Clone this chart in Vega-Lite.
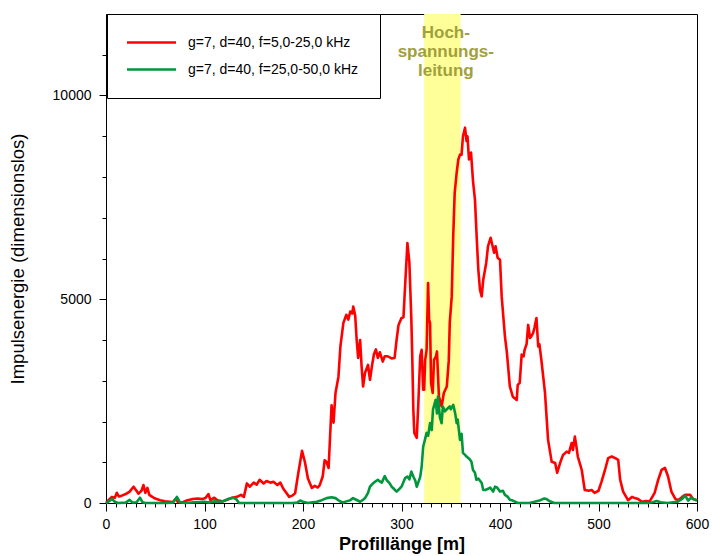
{
  "$schema": "https://vega.github.io/schema/vega-lite/v6.json",
  "width": 591,
  "height": 489,
  "autosize": "none",
  "padding": {"left": 106, "top": 14, "right": 15, "bottom": 53},
  "background": "white",
  "datasets": {
    "band": [{"von": 323, "bis": 360}],
    "note": [{"m": 345, "E": 11400, "txt": "Hoch-\nspannungs-\nleitung"}],
    "curves": [
      {"m":0,"E":0,"S":"g=7, d=40, f=5,0-25,0 kHz"},
      {"m":3,"E":80,"S":"g=7, d=40, f=5,0-25,0 kHz"},
      {"m":6,"E":150,"S":"g=7, d=40, f=5,0-25,0 kHz"},
      {"m":9,"E":130,"S":"g=7, d=40, f=5,0-25,0 kHz"},
      {"m":11,"E":250,"S":"g=7, d=40, f=5,0-25,0 kHz"},
      {"m":13,"E":160,"S":"g=7, d=40, f=5,0-25,0 kHz"},
      {"m":16,"E":180,"S":"g=7, d=40, f=5,0-25,0 kHz"},
      {"m":20,"E":220,"S":"g=7, d=40, f=5,0-25,0 kHz"},
      {"m":24,"E":280,"S":"g=7, d=40, f=5,0-25,0 kHz"},
      {"m":28,"E":400,"S":"g=7, d=40, f=5,0-25,0 kHz"},
      {"m":30,"E":330,"S":"g=7, d=40, f=5,0-25,0 kHz"},
      {"m":33,"E":230,"S":"g=7, d=40, f=5,0-25,0 kHz"},
      {"m":36,"E":300,"S":"g=7, d=40, f=5,0-25,0 kHz"},
      {"m":38,"E":440,"S":"g=7, d=40, f=5,0-25,0 kHz"},
      {"m":40,"E":250,"S":"g=7, d=40, f=5,0-25,0 kHz"},
      {"m":42,"E":370,"S":"g=7, d=40, f=5,0-25,0 kHz"},
      {"m":44,"E":200,"S":"g=7, d=40, f=5,0-25,0 kHz"},
      {"m":47,"E":150,"S":"g=7, d=40, f=5,0-25,0 kHz"},
      {"m":50,"E":110,"S":"g=7, d=40, f=5,0-25,0 kHz"},
      {"m":55,"E":70,"S":"g=7, d=40, f=5,0-25,0 kHz"},
      {"m":60,"E":40,"S":"g=7, d=40, f=5,0-25,0 kHz"},
      {"m":65,"E":30,"S":"g=7, d=40, f=5,0-25,0 kHz"},
      {"m":68,"E":20,"S":"g=7, d=40, f=5,0-25,0 kHz"},
      {"m":71,"E":110,"S":"g=7, d=40, f=5,0-25,0 kHz"},
      {"m":73,"E":20,"S":"g=7, d=40, f=5,0-25,0 kHz"},
      {"m":78,"E":20,"S":"g=7, d=40, f=5,0-25,0 kHz"},
      {"m":82,"E":60,"S":"g=7, d=40, f=5,0-25,0 kHz"},
      {"m":88,"E":100,"S":"g=7, d=40, f=5,0-25,0 kHz"},
      {"m":93,"E":110,"S":"g=7, d=40, f=5,0-25,0 kHz"},
      {"m":98,"E":100,"S":"g=7, d=40, f=5,0-25,0 kHz"},
      {"m":101,"E":120,"S":"g=7, d=40, f=5,0-25,0 kHz"},
      {"m":104,"E":220,"S":"g=7, d=40, f=5,0-25,0 kHz"},
      {"m":106,"E":70,"S":"g=7, d=40, f=5,0-25,0 kHz"},
      {"m":110,"E":130,"S":"g=7, d=40, f=5,0-25,0 kHz"},
      {"m":113,"E":70,"S":"g=7, d=40, f=5,0-25,0 kHz"},
      {"m":118,"E":40,"S":"g=7, d=40, f=5,0-25,0 kHz"},
      {"m":123,"E":80,"S":"g=7, d=40, f=5,0-25,0 kHz"},
      {"m":128,"E":130,"S":"g=7, d=40, f=5,0-25,0 kHz"},
      {"m":133,"E":150,"S":"g=7, d=40, f=5,0-25,0 kHz"},
      {"m":137,"E":200,"S":"g=7, d=40, f=5,0-25,0 kHz"},
      {"m":140,"E":150,"S":"g=7, d=40, f=5,0-25,0 kHz"},
      {"m":143,"E":480,"S":"g=7, d=40, f=5,0-25,0 kHz"},
      {"m":146,"E":400,"S":"g=7, d=40, f=5,0-25,0 kHz"},
      {"m":150,"E":500,"S":"g=7, d=40, f=5,0-25,0 kHz"},
      {"m":153,"E":450,"S":"g=7, d=40, f=5,0-25,0 kHz"},
      {"m":156,"E":570,"S":"g=7, d=40, f=5,0-25,0 kHz"},
      {"m":160,"E":480,"S":"g=7, d=40, f=5,0-25,0 kHz"},
      {"m":163,"E":540,"S":"g=7, d=40, f=5,0-25,0 kHz"},
      {"m":167,"E":500,"S":"g=7, d=40, f=5,0-25,0 kHz"},
      {"m":170,"E":520,"S":"g=7, d=40, f=5,0-25,0 kHz"},
      {"m":174,"E":440,"S":"g=7, d=40, f=5,0-25,0 kHz"},
      {"m":177,"E":500,"S":"g=7, d=40, f=5,0-25,0 kHz"},
      {"m":180,"E":350,"S":"g=7, d=40, f=5,0-25,0 kHz"},
      {"m":183,"E":250,"S":"g=7, d=40, f=5,0-25,0 kHz"},
      {"m":186,"E":150,"S":"g=7, d=40, f=5,0-25,0 kHz"},
      {"m":189,"E":180,"S":"g=7, d=40, f=5,0-25,0 kHz"},
      {"m":192,"E":240,"S":"g=7, d=40, f=5,0-25,0 kHz"},
      {"m":195,"E":700,"S":"g=7, d=40, f=5,0-25,0 kHz"},
      {"m":199,"E":1280,"S":"g=7, d=40, f=5,0-25,0 kHz"},
      {"m":202,"E":1000,"S":"g=7, d=40, f=5,0-25,0 kHz"},
      {"m":205,"E":600,"S":"g=7, d=40, f=5,0-25,0 kHz"},
      {"m":209,"E":370,"S":"g=7, d=40, f=5,0-25,0 kHz"},
      {"m":212,"E":420,"S":"g=7, d=40, f=5,0-25,0 kHz"},
      {"m":215,"E":380,"S":"g=7, d=40, f=5,0-25,0 kHz"},
      {"m":217,"E":440,"S":"g=7, d=40, f=5,0-25,0 kHz"},
      {"m":220,"E":650,"S":"g=7, d=40, f=5,0-25,0 kHz"},
      {"m":222,"E":1050,"S":"g=7, d=40, f=5,0-25,0 kHz"},
      {"m":224,"E":1000,"S":"g=7, d=40, f=5,0-25,0 kHz"},
      {"m":226,"E":860,"S":"g=7, d=40, f=5,0-25,0 kHz"},
      {"m":229,"E":2400,"S":"g=7, d=40, f=5,0-25,0 kHz"},
      {"m":231,"E":1970,"S":"g=7, d=40, f=5,0-25,0 kHz"},
      {"m":233,"E":2700,"S":"g=7, d=40, f=5,0-25,0 kHz"},
      {"m":236,"E":3100,"S":"g=7, d=40, f=5,0-25,0 kHz"},
      {"m":238,"E":3850,"S":"g=7, d=40, f=5,0-25,0 kHz"},
      {"m":241,"E":4420,"S":"g=7, d=40, f=5,0-25,0 kHz"},
      {"m":244,"E":4620,"S":"g=7, d=40, f=5,0-25,0 kHz"},
      {"m":246,"E":4500,"S":"g=7, d=40, f=5,0-25,0 kHz"},
      {"m":248,"E":4700,"S":"g=7, d=40, f=5,0-25,0 kHz"},
      {"m":250,"E":4650,"S":"g=7, d=40, f=5,0-25,0 kHz"},
      {"m":251,"E":4820,"S":"g=7, d=40, f=5,0-25,0 kHz"},
      {"m":253,"E":4600,"S":"g=7, d=40, f=5,0-25,0 kHz"},
      {"m":254.5,"E":4000,"S":"g=7, d=40, f=5,0-25,0 kHz"},
      {"m":256,"E":3560,"S":"g=7, d=40, f=5,0-25,0 kHz"},
      {"m":258,"E":4000,"S":"g=7, d=40, f=5,0-25,0 kHz"},
      {"m":259.5,"E":3350,"S":"g=7, d=40, f=5,0-25,0 kHz"},
      {"m":261,"E":2860,"S":"g=7, d=40, f=5,0-25,0 kHz"},
      {"m":263,"E":3200,"S":"g=7, d=40, f=5,0-25,0 kHz"},
      {"m":266,"E":3390,"S":"g=7, d=40, f=5,0-25,0 kHz"},
      {"m":268,"E":3020,"S":"g=7, d=40, f=5,0-25,0 kHz"},
      {"m":270,"E":3360,"S":"g=7, d=40, f=5,0-25,0 kHz"},
      {"m":272,"E":3650,"S":"g=7, d=40, f=5,0-25,0 kHz"},
      {"m":274,"E":3770,"S":"g=7, d=40, f=5,0-25,0 kHz"},
      {"m":276,"E":3560,"S":"g=7, d=40, f=5,0-25,0 kHz"},
      {"m":278,"E":3700,"S":"g=7, d=40, f=5,0-25,0 kHz"},
      {"m":281,"E":3470,"S":"g=7, d=40, f=5,0-25,0 kHz"},
      {"m":283,"E":3600,"S":"g=7, d=40, f=5,0-25,0 kHz"},
      {"m":286,"E":3600,"S":"g=7, d=40, f=5,0-25,0 kHz"},
      {"m":290,"E":3550,"S":"g=7, d=40, f=5,0-25,0 kHz"},
      {"m":293,"E":3560,"S":"g=7, d=40, f=5,0-25,0 kHz"},
      {"m":295,"E":4000,"S":"g=7, d=40, f=5,0-25,0 kHz"},
      {"m":297,"E":4370,"S":"g=7, d=40, f=5,0-25,0 kHz"},
      {"m":300,"E":4540,"S":"g=7, d=40, f=5,0-25,0 kHz"},
      {"m":302,"E":4560,"S":"g=7, d=40, f=5,0-25,0 kHz"},
      {"m":304,"E":5480,"S":"g=7, d=40, f=5,0-25,0 kHz"},
      {"m":306,"E":6380,"S":"g=7, d=40, f=5,0-25,0 kHz"},
      {"m":308,"E":5900,"S":"g=7, d=40, f=5,0-25,0 kHz"},
      {"m":310,"E":4500,"S":"g=7, d=40, f=5,0-25,0 kHz"},
      {"m":311,"E":3500,"S":"g=7, d=40, f=5,0-25,0 kHz"},
      {"m":312,"E":2300,"S":"g=7, d=40, f=5,0-25,0 kHz"},
      {"m":313,"E":1720,"S":"g=7, d=40, f=5,0-25,0 kHz"},
      {"m":315.5,"E":1600,"S":"g=7, d=40, f=5,0-25,0 kHz"},
      {"m":317,"E":2400,"S":"g=7, d=40, f=5,0-25,0 kHz"},
      {"m":319,"E":3600,"S":"g=7, d=40, f=5,0-25,0 kHz"},
      {"m":320.5,"E":3760,"S":"g=7, d=40, f=5,0-25,0 kHz"},
      {"m":322,"E":2780,"S":"g=7, d=40, f=5,0-25,0 kHz"},
      {"m":323,"E":2780,"S":"g=7, d=40, f=5,0-25,0 kHz"},
      {"m":324,"E":3500,"S":"g=7, d=40, f=5,0-25,0 kHz"},
      {"m":325.5,"E":3760,"S":"g=7, d=40, f=5,0-25,0 kHz"},
      {"m":327,"E":5400,"S":"g=7, d=40, f=5,0-25,0 kHz"},
      {"m":328,"E":4500,"S":"g=7, d=40, f=5,0-25,0 kHz"},
      {"m":329,"E":4420,"S":"g=7, d=40, f=5,0-25,0 kHz"},
      {"m":330,"E":2950,"S":"g=7, d=40, f=5,0-25,0 kHz"},
      {"m":331.7,"E":2700,"S":"g=7, d=40, f=5,0-25,0 kHz"},
      {"m":333,"E":3510,"S":"g=7, d=40, f=5,0-25,0 kHz"},
      {"m":335,"E":3600,"S":"g=7, d=40, f=5,0-25,0 kHz"},
      {"m":336,"E":3720,"S":"g=7, d=40, f=5,0-25,0 kHz"},
      {"m":338,"E":2610,"S":"g=7, d=40, f=5,0-25,0 kHz"},
      {"m":340.7,"E":2370,"S":"g=7, d=40, f=5,0-25,0 kHz"},
      {"m":343,"E":2700,"S":"g=7, d=40, f=5,0-25,0 kHz"},
      {"m":346,"E":2860,"S":"g=7, d=40, f=5,0-25,0 kHz"},
      {"m":348,"E":3500,"S":"g=7, d=40, f=5,0-25,0 kHz"},
      {"m":349,"E":4420,"S":"g=7, d=40, f=5,0-25,0 kHz"},
      {"m":351,"E":5070,"S":"g=7, d=40, f=5,0-25,0 kHz"},
      {"m":352.5,"E":6540,"S":"g=7, d=40, f=5,0-25,0 kHz"},
      {"m":354,"E":7610,"S":"g=7, d=40, f=5,0-25,0 kHz"},
      {"m":356,"E":8100,"S":"g=7, d=40, f=5,0-25,0 kHz"},
      {"m":357.7,"E":8430,"S":"g=7, d=40, f=5,0-25,0 kHz"},
      {"m":359.4,"E":8550,"S":"g=7, d=40, f=5,0-25,0 kHz"},
      {"m":361,"E":8550,"S":"g=7, d=40, f=5,0-25,0 kHz"},
      {"m":362.4,"E":9000,"S":"g=7, d=40, f=5,0-25,0 kHz"},
      {"m":364.5,"E":9210,"S":"g=7, d=40, f=5,0-25,0 kHz"},
      {"m":366,"E":8880,"S":"g=7, d=40, f=5,0-25,0 kHz"},
      {"m":367,"E":9000,"S":"g=7, d=40, f=5,0-25,0 kHz"},
      {"m":368.5,"E":8430,"S":"g=7, d=40, f=5,0-25,0 kHz"},
      {"m":370.6,"E":8600,"S":"g=7, d=40, f=5,0-25,0 kHz"},
      {"m":372.6,"E":7900,"S":"g=7, d=40, f=5,0-25,0 kHz"},
      {"m":374.6,"E":7440,"S":"g=7, d=40, f=5,0-25,0 kHz"},
      {"m":376.3,"E":6540,"S":"g=7, d=40, f=5,0-25,0 kHz"},
      {"m":378,"E":5720,"S":"g=7, d=40, f=5,0-25,0 kHz"},
      {"m":379.7,"E":5230,"S":"g=7, d=40, f=5,0-25,0 kHz"},
      {"m":381.4,"E":5070,"S":"g=7, d=40, f=5,0-25,0 kHz"},
      {"m":383,"E":5480,"S":"g=7, d=40, f=5,0-25,0 kHz"},
      {"m":386,"E":5890,"S":"g=7, d=40, f=5,0-25,0 kHz"},
      {"m":387.8,"E":6300,"S":"g=7, d=40, f=5,0-25,0 kHz"},
      {"m":390.5,"E":6510,"S":"g=7, d=40, f=5,0-25,0 kHz"},
      {"m":392.5,"E":6300,"S":"g=7, d=40, f=5,0-25,0 kHz"},
      {"m":394,"E":6140,"S":"g=7, d=40, f=5,0-25,0 kHz"},
      {"m":395.5,"E":6300,"S":"g=7, d=40, f=5,0-25,0 kHz"},
      {"m":397.6,"E":6020,"S":"g=7, d=40, f=5,0-25,0 kHz"},
      {"m":400,"E":5970,"S":"g=7, d=40, f=5,0-25,0 kHz"},
      {"m":401.7,"E":5070,"S":"g=7, d=40, f=5,0-25,0 kHz"},
      {"m":405,"E":4090,"S":"g=7, d=40, f=5,0-25,0 kHz"},
      {"m":407,"E":3690,"S":"g=7, d=40, f=5,0-25,0 kHz"},
      {"m":410,"E":2860,"S":"g=7, d=40, f=5,0-25,0 kHz"},
      {"m":413,"E":2610,"S":"g=7, d=40, f=5,0-25,0 kHz"},
      {"m":417,"E":2530,"S":"g=7, d=40, f=5,0-25,0 kHz"},
      {"m":418,"E":2900,"S":"g=7, d=40, f=5,0-25,0 kHz"},
      {"m":420,"E":2950,"S":"g=7, d=40, f=5,0-25,0 kHz"},
      {"m":422,"E":3640,"S":"g=7, d=40, f=5,0-25,0 kHz"},
      {"m":424,"E":3600,"S":"g=7, d=40, f=5,0-25,0 kHz"},
      {"m":425,"E":3760,"S":"g=7, d=40, f=5,0-25,0 kHz"},
      {"m":427,"E":3900,"S":"g=7, d=40, f=5,0-25,0 kHz"},
      {"m":428.6,"E":4370,"S":"g=7, d=40, f=5,0-25,0 kHz"},
      {"m":430.5,"E":4050,"S":"g=7, d=40, f=5,0-25,0 kHz"},
      {"m":432,"E":4100,"S":"g=7, d=40, f=5,0-25,0 kHz"},
      {"m":433.6,"E":4170,"S":"g=7, d=40, f=5,0-25,0 kHz"},
      {"m":435,"E":4300,"S":"g=7, d=40, f=5,0-25,0 kHz"},
      {"m":437,"E":4540,"S":"g=7, d=40, f=5,0-25,0 kHz"},
      {"m":438.8,"E":3840,"S":"g=7, d=40, f=5,0-25,0 kHz"},
      {"m":440,"E":3900,"S":"g=7, d=40, f=5,0-25,0 kHz"},
      {"m":442,"E":3510,"S":"g=7, d=40, f=5,0-25,0 kHz"},
      {"m":445.7,"E":2700,"S":"g=7, d=40, f=5,0-25,0 kHz"},
      {"m":448.8,"E":1550,"S":"g=7, d=40, f=5,0-25,0 kHz"},
      {"m":452.5,"E":1010,"S":"g=7, d=40, f=5,0-25,0 kHz"},
      {"m":456,"E":980,"S":"g=7, d=40, f=5,0-25,0 kHz"},
      {"m":458,"E":740,"S":"g=7, d=40, f=5,0-25,0 kHz"},
      {"m":461,"E":980,"S":"g=7, d=40, f=5,0-25,0 kHz"},
      {"m":464,"E":1180,"S":"g=7, d=40, f=5,0-25,0 kHz"},
      {"m":467.7,"E":1260,"S":"g=7, d=40, f=5,0-25,0 kHz"},
      {"m":470,"E":1230,"S":"g=7, d=40, f=5,0-25,0 kHz"},
      {"m":472.7,"E":1470,"S":"g=7, d=40, f=5,0-25,0 kHz"},
      {"m":474,"E":1300,"S":"g=7, d=40, f=5,0-25,0 kHz"},
      {"m":476,"E":1630,"S":"g=7, d=40, f=5,0-25,0 kHz"},
      {"m":477.5,"E":1400,"S":"g=7, d=40, f=5,0-25,0 kHz"},
      {"m":479,"E":1140,"S":"g=7, d=40, f=5,0-25,0 kHz"},
      {"m":483,"E":810,"S":"g=7, d=40, f=5,0-25,0 kHz"},
      {"m":486,"E":320,"S":"g=7, d=40, f=5,0-25,0 kHz"},
      {"m":490,"E":300,"S":"g=7, d=40, f=5,0-25,0 kHz"},
      {"m":493,"E":320,"S":"g=7, d=40, f=5,0-25,0 kHz"},
      {"m":496,"E":250,"S":"g=7, d=40, f=5,0-25,0 kHz"},
      {"m":500,"E":300,"S":"g=7, d=40, f=5,0-25,0 kHz"},
      {"m":503,"E":520,"S":"g=7, d=40, f=5,0-25,0 kHz"},
      {"m":506.6,"E":810,"S":"g=7, d=40, f=5,0-25,0 kHz"},
      {"m":509.8,"E":1100,"S":"g=7, d=40, f=5,0-25,0 kHz"},
      {"m":513.4,"E":1140,"S":"g=7, d=40, f=5,0-25,0 kHz"},
      {"m":517,"E":1100,"S":"g=7, d=40, f=5,0-25,0 kHz"},
      {"m":520,"E":1060,"S":"g=7, d=40, f=5,0-25,0 kHz"},
      {"m":522,"E":570,"S":"g=7, d=40, f=5,0-25,0 kHz"},
      {"m":525,"E":280,"S":"g=7, d=40, f=5,0-25,0 kHz"},
      {"m":530,"E":70,"S":"g=7, d=40, f=5,0-25,0 kHz"},
      {"m":534,"E":150,"S":"g=7, d=40, f=5,0-25,0 kHz"},
      {"m":537,"E":120,"S":"g=7, d=40, f=5,0-25,0 kHz"},
      {"m":540,"E":100,"S":"g=7, d=40, f=5,0-25,0 kHz"},
      {"m":544,"E":30,"S":"g=7, d=40, f=5,0-25,0 kHz"},
      {"m":548,"E":50,"S":"g=7, d=40, f=5,0-25,0 kHz"},
      {"m":552,"E":40,"S":"g=7, d=40, f=5,0-25,0 kHz"},
      {"m":557,"E":250,"S":"g=7, d=40, f=5,0-25,0 kHz"},
      {"m":560.5,"E":560,"S":"g=7, d=40, f=5,0-25,0 kHz"},
      {"m":564,"E":810,"S":"g=7, d=40, f=5,0-25,0 kHz"},
      {"m":567.5,"E":860,"S":"g=7, d=40, f=5,0-25,0 kHz"},
      {"m":570.6,"E":650,"S":"g=7, d=40, f=5,0-25,0 kHz"},
      {"m":574,"E":280,"S":"g=7, d=40, f=5,0-25,0 kHz"},
      {"m":578,"E":100,"S":"g=7, d=40, f=5,0-25,0 kHz"},
      {"m":581,"E":70,"S":"g=7, d=40, f=5,0-25,0 kHz"},
      {"m":585,"E":150,"S":"g=7, d=40, f=5,0-25,0 kHz"},
      {"m":588,"E":200,"S":"g=7, d=40, f=5,0-25,0 kHz"},
      {"m":593,"E":200,"S":"g=7, d=40, f=5,0-25,0 kHz"},
      {"m":596,"E":100,"S":"g=7, d=40, f=5,0-25,0 kHz"},
      {"m":600,"E":70,"S":"g=7, d=40, f=5,0-25,0 kHz"},
      {"m":0,"E":0,"S":"g=7, d=40, f=25,0-50,0 kHz"},
      {"m":3,"E":40,"S":"g=7, d=40, f=25,0-50,0 kHz"},
      {"m":6,"E":100,"S":"g=7, d=40, f=25,0-50,0 kHz"},
      {"m":9,"E":30,"S":"g=7, d=40, f=25,0-50,0 kHz"},
      {"m":12,"E":0,"S":"g=7, d=40, f=25,0-50,0 kHz"},
      {"m":20,"E":10,"S":"g=7, d=40, f=25,0-50,0 kHz"},
      {"m":24,"E":75,"S":"g=7, d=40, f=25,0-50,0 kHz"},
      {"m":27,"E":10,"S":"g=7, d=40, f=25,0-50,0 kHz"},
      {"m":31,"E":20,"S":"g=7, d=40, f=25,0-50,0 kHz"},
      {"m":34.5,"E":130,"S":"g=7, d=40, f=25,0-50,0 kHz"},
      {"m":37,"E":20,"S":"g=7, d=40, f=25,0-50,0 kHz"},
      {"m":40,"E":0,"S":"g=7, d=40, f=25,0-50,0 kHz"},
      {"m":60,"E":0,"S":"g=7, d=40, f=25,0-50,0 kHz"},
      {"m":68,"E":10,"S":"g=7, d=40, f=25,0-50,0 kHz"},
      {"m":72,"E":150,"S":"g=7, d=40, f=25,0-50,0 kHz"},
      {"m":75,"E":20,"S":"g=7, d=40, f=25,0-50,0 kHz"},
      {"m":80,"E":0,"S":"g=7, d=40, f=25,0-50,0 kHz"},
      {"m":90,"E":20,"S":"g=7, d=40, f=25,0-50,0 kHz"},
      {"m":100,"E":30,"S":"g=7, d=40, f=25,0-50,0 kHz"},
      {"m":105,"E":10,"S":"g=7, d=40, f=25,0-50,0 kHz"},
      {"m":110,"E":40,"S":"g=7, d=40, f=25,0-50,0 kHz"},
      {"m":115,"E":30,"S":"g=7, d=40, f=25,0-50,0 kHz"},
      {"m":119,"E":40,"S":"g=7, d=40, f=25,0-50,0 kHz"},
      {"m":124,"E":100,"S":"g=7, d=40, f=25,0-50,0 kHz"},
      {"m":129,"E":130,"S":"g=7, d=40, f=25,0-50,0 kHz"},
      {"m":132.7,"E":80,"S":"g=7, d=40, f=25,0-50,0 kHz"},
      {"m":135,"E":0,"S":"g=7, d=40, f=25,0-50,0 kHz"},
      {"m":190,"E":0,"S":"g=7, d=40, f=25,0-50,0 kHz"},
      {"m":194,"E":10,"S":"g=7, d=40, f=25,0-50,0 kHz"},
      {"m":197,"E":60,"S":"g=7, d=40, f=25,0-50,0 kHz"},
      {"m":200,"E":30,"S":"g=7, d=40, f=25,0-50,0 kHz"},
      {"m":205,"E":0,"S":"g=7, d=40, f=25,0-50,0 kHz"},
      {"m":210,"E":20,"S":"g=7, d=40, f=25,0-50,0 kHz"},
      {"m":214,"E":30,"S":"g=7, d=40, f=25,0-50,0 kHz"},
      {"m":219,"E":70,"S":"g=7, d=40, f=25,0-50,0 kHz"},
      {"m":224,"E":120,"S":"g=7, d=40, f=25,0-50,0 kHz"},
      {"m":229,"E":140,"S":"g=7, d=40, f=25,0-50,0 kHz"},
      {"m":233,"E":120,"S":"g=7, d=40, f=25,0-50,0 kHz"},
      {"m":237,"E":50,"S":"g=7, d=40, f=25,0-50,0 kHz"},
      {"m":240.6,"E":10,"S":"g=7, d=40, f=25,0-50,0 kHz"},
      {"m":244,"E":40,"S":"g=7, d=40, f=25,0-50,0 kHz"},
      {"m":248,"E":70,"S":"g=7, d=40, f=25,0-50,0 kHz"},
      {"m":250.8,"E":120,"S":"g=7, d=40, f=25,0-50,0 kHz"},
      {"m":254,"E":80,"S":"g=7, d=40, f=25,0-50,0 kHz"},
      {"m":258,"E":30,"S":"g=7, d=40, f=25,0-50,0 kHz"},
      {"m":261,"E":80,"S":"g=7, d=40, f=25,0-50,0 kHz"},
      {"m":263,"E":120,"S":"g=7, d=40, f=25,0-50,0 kHz"},
      {"m":266,"E":250,"S":"g=7, d=40, f=25,0-50,0 kHz"},
      {"m":268,"E":400,"S":"g=7, d=40, f=25,0-50,0 kHz"},
      {"m":271,"E":480,"S":"g=7, d=40, f=25,0-50,0 kHz"},
      {"m":273,"E":520,"S":"g=7, d=40, f=25,0-50,0 kHz"},
      {"m":276,"E":570,"S":"g=7, d=40, f=25,0-50,0 kHz"},
      {"m":278,"E":530,"S":"g=7, d=40, f=25,0-50,0 kHz"},
      {"m":280,"E":500,"S":"g=7, d=40, f=25,0-50,0 kHz"},
      {"m":283,"E":660,"S":"g=7, d=40, f=25,0-50,0 kHz"},
      {"m":285,"E":560,"S":"g=7, d=40, f=25,0-50,0 kHz"},
      {"m":288,"E":480,"S":"g=7, d=40, f=25,0-50,0 kHz"},
      {"m":290,"E":400,"S":"g=7, d=40, f=25,0-50,0 kHz"},
      {"m":293,"E":330,"S":"g=7, d=40, f=25,0-50,0 kHz"},
      {"m":295,"E":280,"S":"g=7, d=40, f=25,0-50,0 kHz"},
      {"m":298,"E":350,"S":"g=7, d=40, f=25,0-50,0 kHz"},
      {"m":300,"E":400,"S":"g=7, d=40, f=25,0-50,0 kHz"},
      {"m":303.6,"E":610,"S":"g=7, d=40, f=25,0-50,0 kHz"},
      {"m":306,"E":650,"S":"g=7, d=40, f=25,0-50,0 kHz"},
      {"m":308,"E":580,"S":"g=7, d=40, f=25,0-50,0 kHz"},
      {"m":310,"E":770,"S":"g=7, d=40, f=25,0-50,0 kHz"},
      {"m":312,"E":650,"S":"g=7, d=40, f=25,0-50,0 kHz"},
      {"m":314,"E":550,"S":"g=7, d=40, f=25,0-50,0 kHz"},
      {"m":315.5,"E":400,"S":"g=7, d=40, f=25,0-50,0 kHz"},
      {"m":317,"E":500,"S":"g=7, d=40, f=25,0-50,0 kHz"},
      {"m":319,"E":640,"S":"g=7, d=40, f=25,0-50,0 kHz"},
      {"m":320.5,"E":900,"S":"g=7, d=40, f=25,0-50,0 kHz"},
      {"m":322,"E":1380,"S":"g=7, d=40, f=25,0-50,0 kHz"},
      {"m":325.5,"E":1720,"S":"g=7, d=40, f=25,0-50,0 kHz"},
      {"m":327,"E":1650,"S":"g=7, d=40, f=25,0-50,0 kHz"},
      {"m":329,"E":1960,"S":"g=7, d=40, f=25,0-50,0 kHz"},
      {"m":330.7,"E":1790,"S":"g=7, d=40, f=25,0-50,0 kHz"},
      {"m":332,"E":2300,"S":"g=7, d=40, f=25,0-50,0 kHz"},
      {"m":334.7,"E":2530,"S":"g=7, d=40, f=25,0-50,0 kHz"},
      {"m":336,"E":2200,"S":"g=7, d=40, f=25,0-50,0 kHz"},
      {"m":337,"E":2610,"S":"g=7, d=40, f=25,0-50,0 kHz"},
      {"m":339,"E":2100,"S":"g=7, d=40, f=25,0-50,0 kHz"},
      {"m":340.7,"E":1960,"S":"g=7, d=40, f=25,0-50,0 kHz"},
      {"m":342,"E":2370,"S":"g=7, d=40, f=25,0-50,0 kHz"},
      {"m":344,"E":2250,"S":"g=7, d=40, f=25,0-50,0 kHz"},
      {"m":346,"E":2300,"S":"g=7, d=40, f=25,0-50,0 kHz"},
      {"m":349,"E":2370,"S":"g=7, d=40, f=25,0-50,0 kHz"},
      {"m":350,"E":2300,"S":"g=7, d=40, f=25,0-50,0 kHz"},
      {"m":352.5,"E":2410,"S":"g=7, d=40, f=25,0-50,0 kHz"},
      {"m":354.5,"E":2200,"S":"g=7, d=40, f=25,0-50,0 kHz"},
      {"m":356,"E":1960,"S":"g=7, d=40, f=25,0-50,0 kHz"},
      {"m":357,"E":2050,"S":"g=7, d=40, f=25,0-50,0 kHz"},
      {"m":359.4,"E":1550,"S":"g=7, d=40, f=25,0-50,0 kHz"},
      {"m":361,"E":1700,"S":"g=7, d=40, f=25,0-50,0 kHz"},
      {"m":362.4,"E":1230,"S":"g=7, d=40, f=25,0-50,0 kHz"},
      {"m":364.5,"E":1180,"S":"g=7, d=40, f=25,0-50,0 kHz"},
      {"m":366,"E":1140,"S":"g=7, d=40, f=25,0-50,0 kHz"},
      {"m":369,"E":1080,"S":"g=7, d=40, f=25,0-50,0 kHz"},
      {"m":371,"E":1010,"S":"g=7, d=40, f=25,0-50,0 kHz"},
      {"m":372.6,"E":810,"S":"g=7, d=40, f=25,0-50,0 kHz"},
      {"m":374.6,"E":740,"S":"g=7, d=40, f=25,0-50,0 kHz"},
      {"m":376,"E":570,"S":"g=7, d=40, f=25,0-50,0 kHz"},
      {"m":378,"E":600,"S":"g=7, d=40, f=25,0-50,0 kHz"},
      {"m":381.4,"E":490,"S":"g=7, d=40, f=25,0-50,0 kHz"},
      {"m":383,"E":320,"S":"g=7, d=40, f=25,0-50,0 kHz"},
      {"m":385,"E":320,"S":"g=7, d=40, f=25,0-50,0 kHz"},
      {"m":388,"E":350,"S":"g=7, d=40, f=25,0-50,0 kHz"},
      {"m":390,"E":380,"S":"g=7, d=40, f=25,0-50,0 kHz"},
      {"m":393,"E":280,"S":"g=7, d=40, f=25,0-50,0 kHz"},
      {"m":395,"E":400,"S":"g=7, d=40, f=25,0-50,0 kHz"},
      {"m":397,"E":380,"S":"g=7, d=40, f=25,0-50,0 kHz"},
      {"m":400,"E":280,"S":"g=7, d=40, f=25,0-50,0 kHz"},
      {"m":403,"E":300,"S":"g=7, d=40, f=25,0-50,0 kHz"},
      {"m":405,"E":200,"S":"g=7, d=40, f=25,0-50,0 kHz"},
      {"m":408,"E":150,"S":"g=7, d=40, f=25,0-50,0 kHz"},
      {"m":410,"E":80,"S":"g=7, d=40, f=25,0-50,0 kHz"},
      {"m":413,"E":60,"S":"g=7, d=40, f=25,0-50,0 kHz"},
      {"m":418,"E":0,"S":"g=7, d=40, f=25,0-50,0 kHz"},
      {"m":430,"E":0,"S":"g=7, d=40, f=25,0-50,0 kHz"},
      {"m":435,"E":30,"S":"g=7, d=40, f=25,0-50,0 kHz"},
      {"m":441,"E":70,"S":"g=7, d=40, f=25,0-50,0 kHz"},
      {"m":445,"E":110,"S":"g=7, d=40, f=25,0-50,0 kHz"},
      {"m":447,"E":100,"S":"g=7, d=40, f=25,0-50,0 kHz"},
      {"m":450,"E":50,"S":"g=7, d=40, f=25,0-50,0 kHz"},
      {"m":455,"E":0,"S":"g=7, d=40, f=25,0-50,0 kHz"},
      {"m":550,"E":0,"S":"g=7, d=40, f=25,0-50,0 kHz"},
      {"m":555,"E":20,"S":"g=7, d=40, f=25,0-50,0 kHz"},
      {"m":559,"E":50,"S":"g=7, d=40, f=25,0-50,0 kHz"},
      {"m":563,"E":20,"S":"g=7, d=40, f=25,0-50,0 kHz"},
      {"m":570,"E":0,"S":"g=7, d=40, f=25,0-50,0 kHz"},
      {"m":580,"E":30,"S":"g=7, d=40, f=25,0-50,0 kHz"},
      {"m":585,"E":100,"S":"g=7, d=40, f=25,0-50,0 kHz"},
      {"m":588,"E":180,"S":"g=7, d=40, f=25,0-50,0 kHz"},
      {"m":591,"E":60,"S":"g=7, d=40, f=25,0-50,0 kHz"},
      {"m":594,"E":130,"S":"g=7, d=40, f=25,0-50,0 kHz"},
      {"m":597,"E":90,"S":"g=7, d=40, f=25,0-50,0 kHz"},
      {"m":600,"E":60,"S":"g=7, d=40, f=25,0-50,0 kHz"}
    ]
  },
  "resolve": {"axis": {"x": "independent"}},
  "layer": [
    {
      "data": {"name": "band"},
      "mark": {"type": "rect", "color": "#ffff99", "opacity": 1},
      "encoding": {
        "x": {
          "field": "von", "type": "quantitative",
          "scale": {"domain": [0, 600], "nice": false, "zero": false},
          "axis": {
            "orient": "bottom",
            "title": null,
            "labels": false,
            "domain": false,
            "grid": false,
            "tickSize": 4,
            "values": [0,10,20,30,40,50,60,70,80,90,100,110,120,130,140,150,160,170,180,190,200,210,220,230,240,250,260,270,280,290,300,310,320,330,340,350,360,370,380,390,400,410,420,430,440,450,460,470,480,490,500,510,520,530,540,550,560,570,580,590,600]
          }
        },
        "x2": {"field": "bis"}
      }
    },
    {
      "data": {"name": "curves"},
      "mark": {"type": "line", "strokeWidth": 2.6, "strokeJoin": "round"},
      "encoding": {
        "x": {
          "field": "m", "type": "quantitative",
          "scale": {"domain": [0, 600], "nice": false, "zero": false},
          "axis": {
            "orient": "bottom",
            "title": "Profillänge [m]",
            "titleFontSize": 18, "titleFontWeight": "bold", "titlePadding": 4,
            "values": [0,100,200,300,400,500,600],
            "labelOverlap": false,
            "labelFlush": false,
            "labelPadding": 6,
            "tickSize": 8
          }
        },
        "y": {
          "field": "E", "type": "quantitative",
          "scale": {"domain": [0, 12000], "nice": false},
          "axis": {
            "title": "Impulsenergie (dimensionslos)",
            "titleFontSize": 18.5, "titleFontWeight": "normal", "titlePadding": 25,
            "values": [0,1000,2000,3000,4000,5000,6000,7000,8000,9000,10000,11000],
            "format": "d",
            "labelExpr": "datum.value % 5000 === 0 ? datum.label : ''",
            "labelOverlap": false,
            "labelPadding": 8,
            "tickSize": {"condition": {"test": "datum.value % 5000 === 0", "value": 7}, "value": 4}
          }
        },
        "color": {
          "field": "S", "type": "nominal",
          "scale": {"domain": ["g=7, d=40, f=5,0-25,0 kHz", "g=7, d=40, f=25,0-50,0 kHz"], "range": ["#ff0000", "#00963c"]},
          "legend": {
            "title": null,
            "orient": "none",
            "legendX": 1,
            "legendY": 0,
            "direction": "vertical",
            "strokeColor": "black",
            "fillColor": "white",
            "padding": 21,
            "symbolType": "M-4,0H4",
            "symbolSize": 150,
            "symbolOffset": 16,
            "symbolStrokeWidth": 2.6,
            "labelFontSize": 14,
            "labelOffset": 29,
            "labelLimit": 400,
            "rowPadding": 12,
            "labelColor": "black"
          }
        }
      }
    },
    {
      "data": {"name": "note"},
      "mark": {"type": "text", "align": "center", "baseline": "alphabetic", "fontSize": 17, "fontWeight": "bold", "color": "#a0a03c", "lineBreak": "\n", "lineHeight": 19},
      "encoding": {
        "x": {"field": "m", "type": "quantitative", "axis": null},
        "y": {"field": "E", "type": "quantitative"},
        "text": {"field": "txt"}
      }
    }
  ],
  "config": {
    "font": "Liberation Sans",
    "view": {"stroke": "black", "strokeWidth": 1},
    "axis": {"grid": false, "domainColor": "black", "tickColor": "black", "labelColor": "black", "titleColor": "black", "labelFontSize": 14, "labelFont": "Liberation Sans", "titleFont": "Liberation Sans"},
    "legend": {"labelFont": "Liberation Sans"}
  }
}
